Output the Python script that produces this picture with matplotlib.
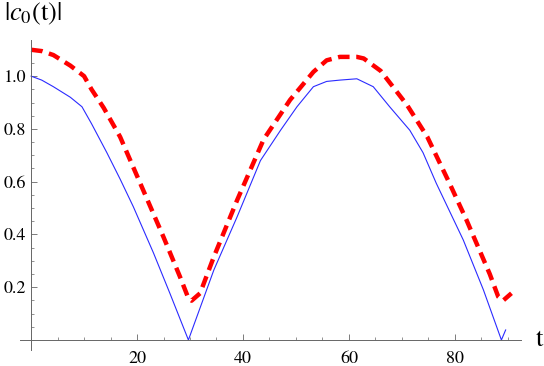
import matplotlib
matplotlib.use("Agg")
import matplotlib.pyplot as plt
from matplotlib.ticker import MultipleLocator, FixedLocator

plt.rcParams['font.family'] = ['STIXGeneral', 'Liberation Serif', 'DejaVu Serif']
plt.rcParams['mathtext.fontset'] = 'stix'

# values
t_blue = [0, 2.0, 4.2, 7.4, 9.6, 11.4, 14.3, 16.8, 19.3, 23.1, 26.2, 29.7,
          34.5, 38.9, 43.3, 47.1, 50.2, 53.3, 55.8, 58.3, 61.5,
          64.6, 67.7, 71.5, 74.0, 76.5, 81.6, 85.4, 88.8, 89.6]
c_blue = [1.0, 0.985, 0.96, 0.92, 0.884, 0.82, 0.71, 0.61, 0.505, 0.33, 0.177, 0.0,
          0.265, 0.467, 0.68, 0.795, 0.884, 0.96, 0.98, 0.985, 0.99,
          0.96, 0.884, 0.795, 0.71, 0.594, 0.379, 0.19, 0.0, 0.038]

t_red = [0, 2, 4.2, 7.4, 10.0, 11.4, 13.7, 16.8, 20.6, 25.0, 28.1, 29.7, 30.3,
         31.9, 34.5, 38.9, 43.9, 48.9, 53.3, 55.8, 58.3, 61.5,
         62.8, 66.0, 71.0, 74.8, 79.0, 82.2, 86.6, 88.2, 89.1, 90.7]
c_red = [1.10, 1.095, 1.08, 1.04, 1.0, 0.95, 0.88, 0.77, 0.594, 0.39, 0.24, 0.158, 0.149,
         0.177, 0.315, 0.53, 0.76, 0.91, 1.016, 1.06, 1.073, 1.073,
         1.067, 1.02, 0.89, 0.77, 0.594, 0.455, 0.25, 0.164, 0.149, 0.177]

x_major = [20, 40, 60, 80]
y_major = [0.2, 0.4, 0.6, 0.8, 1.0]

fig = plt.figure(figsize=(5.44, 3.66), dpi=100)
ax = fig.add_axes([20 / 544, 16 / 366, 501 / 544, 310 / 366])

ax.plot(t_blue, c_blue, color='#2b2bff', lw=0.8)
ax.plot(t_red, c_red, color='#ff0000', lw=3.2, linestyle=(0, (2.6, 1.5)))

ax.set_xlim(-2.1, 92.5)
ax.set_ylim(-0.038, 1.137)

for s in ['top', 'right']:
    ax.spines[s].set_visible(False)
ax.spines['left'].set_position(('data', 0))
ax.spines['bottom'].set_position(('data', 0))
for s in ['left', 'bottom']:
    ax.spines[s].set_color('#666666')
    ax.spines[s].set_linewidth(0.7)

ax.xaxis.set_major_locator(FixedLocator(x_major))
ax.xaxis.set_minor_locator(MultipleLocator(5))
ax.yaxis.set_major_locator(FixedLocator(y_major))
ax.yaxis.set_minor_locator(MultipleLocator(0.05))
ax.set_xticklabels([str(v) for v in x_major])
ax.set_yticklabels(['%.1f' % v for v in y_major])

ax.tick_params(which='both', direction='in', colors='#666666', labelcolor='black', labelsize=13)
ax.tick_params(which='major', length=4.3, width=0.6)
ax.tick_params(which='minor', length=2.5, width=0.5)
ax.tick_params(axis='x', which='major', pad=8)
ax.tick_params(axis='y', which='major', pad=3.5)

fig.text(0.008, 0.962, r'$|c_0(\mathrm{t})|$', fontsize=19, va='center', ha='left')
fig.text(536 / 544, 1 - 340 / 366, 't', fontsize=19, va='center', ha='left')

fig.savefig('out.png', dpi=100)
